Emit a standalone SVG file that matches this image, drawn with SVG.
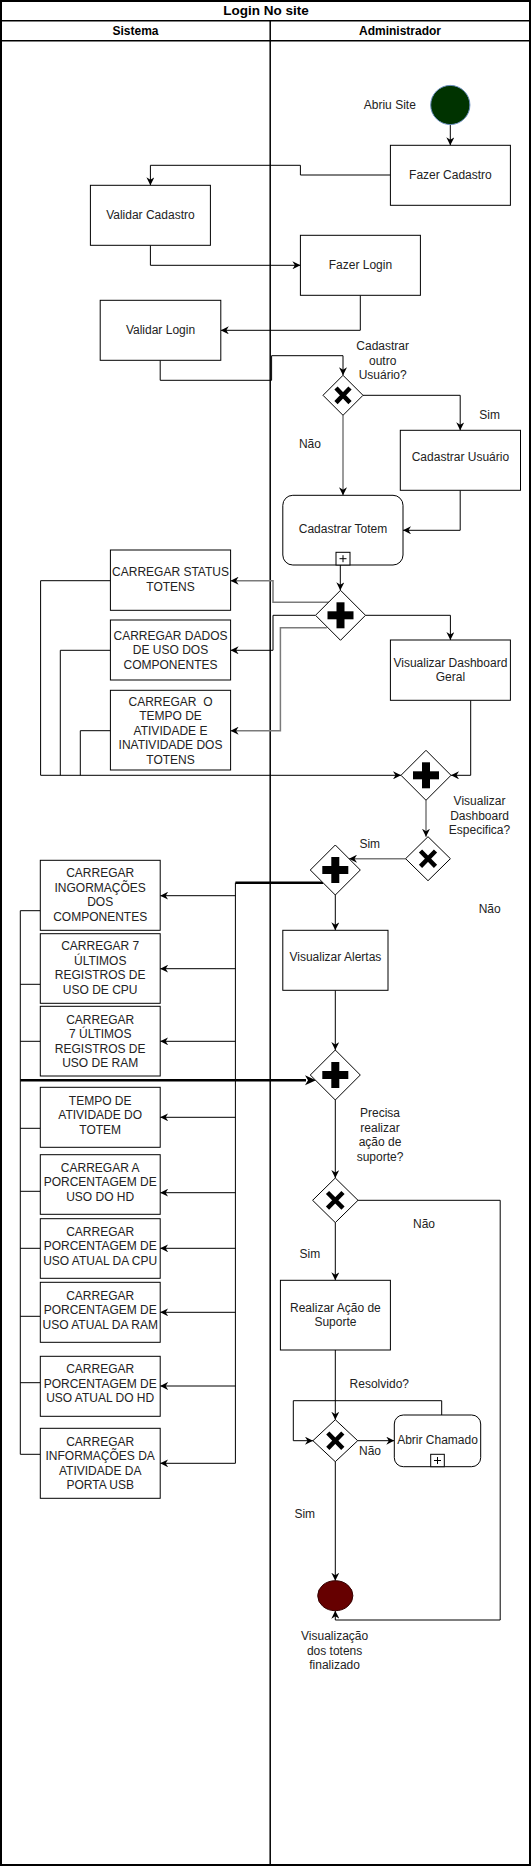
<svg xmlns="http://www.w3.org/2000/svg" width="531" height="1866" viewBox="0 0 531 1866">
<style>
.box{fill:#fff;stroke:#000;stroke-width:1}
.t{font-family:"Liberation Sans",Arial,sans-serif;font-size:12px;fill:#222;text-anchor:middle;dominant-baseline:central}
.b{font-weight:bold;fill:#000}
.e{fill:none;stroke:#000;stroke-width:1}
.a{marker-end:url(#arr)}
.g{stroke:#7a7a7a;stroke-width:1.5}
.k{stroke-width:2.5}
.gw{fill:#fff;stroke:#000;stroke-width:1}
.gm{fill:#000}
.x{stroke:#000;stroke-width:4.5;fill:none}
</style>
<defs>
<marker id="arr" viewBox="0 0 8 8" refX="8" refY="4" markerWidth="8" markerHeight="8" markerUnits="userSpaceOnUse" orient="auto">
<path d="M0,0 L8,4 L0,8 L2.5,4 Z" fill="#000"/>
</marker>
</defs>
<g id="pool">
<rect x="1" y="1" width="529" height="1864" fill="#fff" stroke="#000" stroke-width="2"/>
<line x1="1" y1="20.7" x2="530" y2="20.7" stroke="#000" stroke-width="1.5"/>
<line x1="1" y1="40.7" x2="530" y2="40.7" stroke="#000" stroke-width="1.5"/>
<line x1="270.2" y1="20.7" x2="270.2" y2="1865" stroke="#000" stroke-width="1.5"/>
<text class="t b" x="266" y="10.5" style="font-size:13.5px">Login No site</text>
<text class="t b" x="135.5" y="30.5">Sistema</text>
<text class="t b" x="400" y="30.5">Administrador</text>
</g>
<g id="connectors">
<path class="e a" d="M450.3,124.7 V145.3"/>
<path class="e a" d="M390.4,175 H300.4 V165.3 H150.4 V185.3"/>
<path class="e a" d="M150.4,245.3 V265.3 H300.4"/>
<path class="e a" d="M360.3,295.3 V330.3 H220.8"/>
<path class="e a" d="M160.2,360.3 V380.3 H271.6 V355.7 H343 V375.3"/>
<path class="e a" d="M363,395.3 H460.2 V430.3"/>
<path class="e a g" d="M343,415.3 V495.3"/>
<path class="e a" d="M460.2,490.3 V530.3 H403"/>
<path class="e a" d="M340.3,565 V590.3"/>
<path class="e a g" d="M330,602.3 H273 V580.7 H230.6"/>
<path class="e a" d="M315.2,615.3 H273 V650.3 H230.6"/>
<path class="e a g" d="M326.8,627.7 H280.4 V730.7 H230.6"/>
<path class="e a" d="M365.5,615.3 H450.4 V640"/>
<path class="e a" d="M110.4,580.7 H40.6 V775.3 H401"/>
<path class="e" d="M110.4,650.3 H60.3 V775.3"/>
<path class="e" d="M110.4,730.7 H80.3 V775.3"/>
<path class="e a" d="M470.7,700.3 V775.3 H451"/>
<path class="e a g" d="M426,800.3 V836.7"/>
<path class="e a g" d="M405.7,858.7 H349"/>
<path class="e a" d="M335.3,895 V930.3"/>
<path class="e k" d="M323,882.7 H235.4"/>
<path class="e a" d="M235.4,882.7 V1463.3 H160.2"/>
<path class="e a" d="M235.4,895.7 H160.2"/>
<path class="e a" d="M235.4,968.7 H160.2"/>
<path class="e a" d="M235.4,1041.3 H160.2"/>
<path class="e a" d="M235.4,1117.3 H160.2"/>
<path class="e a" d="M235.4,1192.7 H160.2"/>
<path class="e a" d="M235.4,1248.3 H160.2"/>
<path class="e a" d="M235.4,1312.3 H160.2"/>
<path class="e a" d="M235.4,1386 H160.2"/>
<path class="e a" d="M335.3,990.3 V1050"/>
<path class="e" d="M40.3,910.7 H20.3 V1454.3 H40.3"/>
<path class="e" d="M40.3,984.3 H20.3"/>
<path class="e" d="M40.3,1041.3 H20.3"/>
<path class="e" d="M40.3,1128.3 H20.3"/>
<path class="e" d="M40.3,1191.3 H20.3"/>
<path class="e" d="M40.3,1248.3 H20.3"/>
<path class="e" d="M40.3,1316.3 H20.3"/>
<path class="e" d="M40.3,1382.7 H20.3"/>
<path class="e k" d="M20.3,1080.3 H306"/>
<path d="M305,1075.3 L316,1080.3 L305,1085.3 L308,1080.3 Z" fill="#000"/>
<path class="e a" d="M335.3,1100 V1178"/>
<path class="e a" d="M358,1200.3 H500.2 V1620 H335.3 V1610.7"/>
<path class="e a" d="M335.3,1222.5 V1280.3"/>
<path class="e a" d="M335.3,1350 V1419.7"/>
<path class="e a" d="M357.7,1440.7 H394.3"/>
<path class="e a" d="M441.7,1415 V1400.7 H293.3 V1440.7 H313"/>
<path class="e a" d="M335.3,1461.5 V1580.7"/>
</g>
<g id="start">
<circle cx="450.3" cy="105" r="19.6" fill="#003300" stroke="#6c8ebf" stroke-width="1"/>
<text class="t" x="389.8" y="105">Abriu Site</text>
</g>
<g id="fazer-cadastro"><rect class="box" x="390.4" y="145.3" width="120" height="60"/><text class="t" x="450.4" y="175.3">Fazer Cadastro</text></g>
<g id="validar-cadastro"><rect class="box" x="90.4" y="185.3" width="120" height="60"/><text class="t" x="150.4" y="215.3">Validar Cadastro</text></g>
<g id="fazer-login"><rect class="box" x="300.4" y="235.3" width="120" height="60"/><text class="t" x="360.4" y="265.3">Fazer Login</text></g>
<g id="validar-login"><rect class="box" x="100.2" y="300.3" width="120.6" height="60"/><text class="t" x="160.5" y="330.3">Validar Login</text></g>
<g id="gw-cadastrar-outro">
<polygon class="gw" points="343,375.3 363,395.3 343,415.3 323,395.3"/>
<path class="x" d="M336,388 L350,402.6 M350,388 L336,402.6"/>
<text class="t" x="382.7" y="346">Cadastrar</text><text class="t" x="382.7" y="360.5">outro</text><text class="t" x="382.7" y="375">Usuário?</text>
<text class="t" x="489.7" y="414.7">Sim</text>
<text class="t" x="309.9" y="444.3">Não</text>
</g>
<g id="cadastrar-usuario"><rect class="box" x="400.3" y="430.3" width="120.2" height="60"/><text class="t" x="460.4" y="457.3">Cadastrar Usuário</text></g>
<g id="cadastrar-totem">
<rect class="box" x="282.8" y="495.3" width="120.2" height="69.7" rx="10" ry="10"/>
<text class="t" x="343" y="529.3">Cadastrar Totem</text>
<rect class="box" x="336" y="552.3" width="14" height="12.7"/>
<path d="M339.5,558.7 H346.5 M343,555.2 V562.2" stroke="#000" stroke-width="1"/>
</g>
<g id="gw-p1">
<polygon class="gw" points="340.5,590.3 365.5,615.3 340.5,640.3 315.5,615.3"/>
<rect class="gm" x="327.5" y="611.3" width="26" height="8"/><rect class="gm" x="336.5" y="602.3" width="8" height="26"/>
</g>
<g id="carregar-status"><rect class="box" x="110.4" y="550" width="120.2" height="60.3"/><text class="t" x="170.5" y="572.3">CARREGAR STATUS</text><text class="t" x="170.5" y="587.3">TOTENS</text></g>
<g id="carregar-dados"><rect class="box" x="110.4" y="620" width="120.2" height="60"/><text class="t" x="170.5" y="635.7">CARREGAR DADOS</text><text class="t" x="170.5" y="650.2">DE USO DOS</text><text class="t" x="170.5" y="664.7">COMPONENTES</text></g>
<g id="carregar-tempo"><rect class="box" x="110.4" y="690.3" width="120.2" height="79.7"/><text class="t" x="170.5" y="702" xml:space="preserve">CARREGAR  O</text><text class="t" x="170.5" y="716.4">TEMPO DE</text><text class="t" x="170.5" y="730.8">ATIVIDADE E</text><text class="t" x="170.5" y="745.2">INATIVIDADE DOS</text><text class="t" x="170.5" y="759.6">TOTENS</text></g>
<g id="visualizar-dashboard-geral"><rect class="box" x="390.4" y="640" width="120" height="60.3"/><text class="t" x="450.4" y="662.7">Visualizar Dashboard</text><text class="t" x="450.4" y="677.3">Geral</text></g>
<g id="gw-p2">
<polygon class="gw" points="426,750.3 451,775.3 426,800.3 401,775.3"/>
<rect class="gm" x="413" y="771.3" width="26" height="8"/><rect class="gm" x="422" y="762.3" width="8" height="26"/>
</g>
<g id="gw-x2">
<polygon class="gw" points="428,836.7 450.4,858.7 428,880.7 405.6,858.7"/>
<path class="x" d="M420.5,851 L435.5,866.4 M435.5,851 L420.5,866.4"/>
<text class="t" x="479.5" y="801">Visualizar</text><text class="t" x="479.5" y="815.5">Dashboard</text><text class="t" x="479.5" y="830">Especifica?</text>
<text class="t" x="369.8" y="844.3">Sim</text>
<text class="t" x="489.7" y="909.3">Não</text>
</g>
<g id="gw-p3">
<polygon class="gw" points="335.3,845 360.3,870 335.3,895 310.3,870"/>
<rect class="gm" x="322.3" y="866" width="26" height="8"/><rect class="gm" x="331.3" y="857" width="8" height="26"/>
</g>
<g id="visualizar-alertas"><rect class="box" x="282.8" y="930.3" width="105.2" height="60"/><text class="t" x="335.4" y="957.3">Visualizar Alertas</text></g>
<g id="carregar-info-componentes"><rect class="box" x="40.3" y="860.3" width="119.9" height="70"/><text class="t" x="100.2" y="873.3">CARREGAR</text><text class="t" x="100.2" y="887.8">INGORMAÇÕES</text><text class="t" x="100.2" y="902.3">DOS</text><text class="t" x="100.2" y="916.8">COMPONENTES</text></g>
<g id="carregar-7-cpu"><rect class="box" x="40.3" y="933.7" width="119.9" height="69.6"/><text class="t" x="100.2" y="946.3">CARREGAR 7</text><text class="t" x="100.2" y="960.8">ÚLTIMOS</text><text class="t" x="100.2" y="975.3">REGISTROS DE</text><text class="t" x="100.2" y="989.8">USO DE CPU</text></g>
<g id="carregar-7-ram"><rect class="box" x="40.3" y="1006.3" width="119.9" height="69.7"/><text class="t" x="100.2" y="1019.5">CARREGAR</text><text class="t" x="100.2" y="1034">7 ÚLTIMOS</text><text class="t" x="100.2" y="1048.5">REGISTROS DE</text><text class="t" x="100.2" y="1063">USO DE RAM</text></g>
<g id="tempo-atividade-totem"><rect class="box" x="40.3" y="1087.3" width="119.9" height="60"/><text class="t" x="100.2" y="1100.7">TEMPO DE</text><text class="t" x="100.2" y="1115.2">ATIVIDADE DO</text><text class="t" x="100.2" y="1129.7">TOTEM</text></g>
<g id="carregar-hd"><rect class="box" x="40.3" y="1154.7" width="119.9" height="59.6"/><text class="t" x="100.2" y="1167.7">CARREGAR A</text><text class="t" x="100.2" y="1182.2">PORCENTAGEM DE</text><text class="t" x="100.2" y="1196.7">USO DO HD</text></g>
<g id="carregar-cpu-atual"><rect class="box" x="40.3" y="1218.7" width="119.9" height="59.6"/><text class="t" x="100.2" y="1231.7">CARREGAR</text><text class="t" x="100.2" y="1246.2">PORCENTAGEM DE</text><text class="t" x="100.2" y="1260.7">USO ATUAL DA CPU</text></g>
<g id="carregar-ram-atual"><rect class="box" x="40.3" y="1282.3" width="119.9" height="60"/><text class="t" x="100.2" y="1295.7">CARREGAR</text><text class="t" x="100.2" y="1310.2">PORCENTAGEM DE</text><text class="t" x="100.2" y="1324.7">USO ATUAL DA RAM</text></g>
<g id="carregar-hd-atual"><rect class="box" x="40.3" y="1356.3" width="119.9" height="60"/><text class="t" x="100.2" y="1369.3">CARREGAR</text><text class="t" x="100.2" y="1383.8">PORCENTAGEM DE</text><text class="t" x="100.2" y="1398.3">USO ATUAL DO HD</text></g>
<g id="carregar-usb"><rect class="box" x="40.3" y="1428.3" width="119.9" height="70"/><text class="t" x="100.2" y="1441.7">CARREGAR</text><text class="t" x="100.2" y="1456.2">INFORMAÇÕES DA</text><text class="t" x="100.2" y="1470.7">ATIVIDADE DA</text><text class="t" x="100.2" y="1485.2">PORTA USB</text></g>
<g id="gw-p4">
<polygon class="gw" points="335.3,1050 360.3,1075 335.3,1100 310.3,1075"/>
<rect class="gm" x="322.3" y="1071" width="26" height="8"/><rect class="gm" x="331.3" y="1062" width="8" height="26"/>
<text class="t" x="380" y="1113.3">Precisa</text><text class="t" x="380" y="1127.8">realizar</text><text class="t" x="380" y="1142.3">ação de</text><text class="t" x="380" y="1156.8">suporte?</text>
</g>
<g id="gw-x3">
<polygon class="gw" points="335.3,1178 358,1200.3 335.3,1222.6 312.6,1200.3"/>
<path class="x" d="M327.5,1192.5 L343,1208.2 M343,1192.5 L327.5,1208.2"/>
<text class="t" x="424" y="1224.3">Não</text>
<text class="t" x="309.9" y="1254.3">Sim</text>
</g>
<g id="realizar-acao"><rect class="box" x="280.4" y="1280.3" width="110" height="69.7"/><text class="t" x="335.4" y="1307.7">Realizar Ação de</text><text class="t" x="335.4" y="1322.3">Suporte</text></g>
<g id="gw-x4">
<polygon class="gw" points="335.3,1419.7 357.7,1440.7 335.3,1461.7 312.9,1440.7"/>
<path class="x" d="M327.8,1433 L342.8,1448.4 M342.8,1433 L327.8,1448.4"/>
<text class="t" x="379.3" y="1384.3">Resolvido?</text>
<text class="t" x="370" y="1450.5">Não</text>
<text class="t" x="304.8" y="1514.3">Sim</text>
</g>
<g id="abrir-chamado">
<rect class="box" x="394.3" y="1415" width="86.4" height="51.7" rx="9" ry="9"/>
<text class="t" x="437.5" y="1440">Abrir Chamado</text>
<rect class="box" x="430.7" y="1454.3" width="13.6" height="12.4"/>
<path d="M434,1460.5 H441 M437.5,1457 V1464" stroke="#000" stroke-width="1"/>
</g>
<g id="end">
<ellipse cx="335.3" cy="1595.7" rx="17.6" ry="15" fill="#660000" stroke="#330000" stroke-width="1"/>
<text class="t" x="334.6" y="1636">Visualização</text><text class="t" x="334.6" y="1650.5">dos totens</text><text class="t" x="334.6" y="1665">finalizado</text>
</g>
</svg>
